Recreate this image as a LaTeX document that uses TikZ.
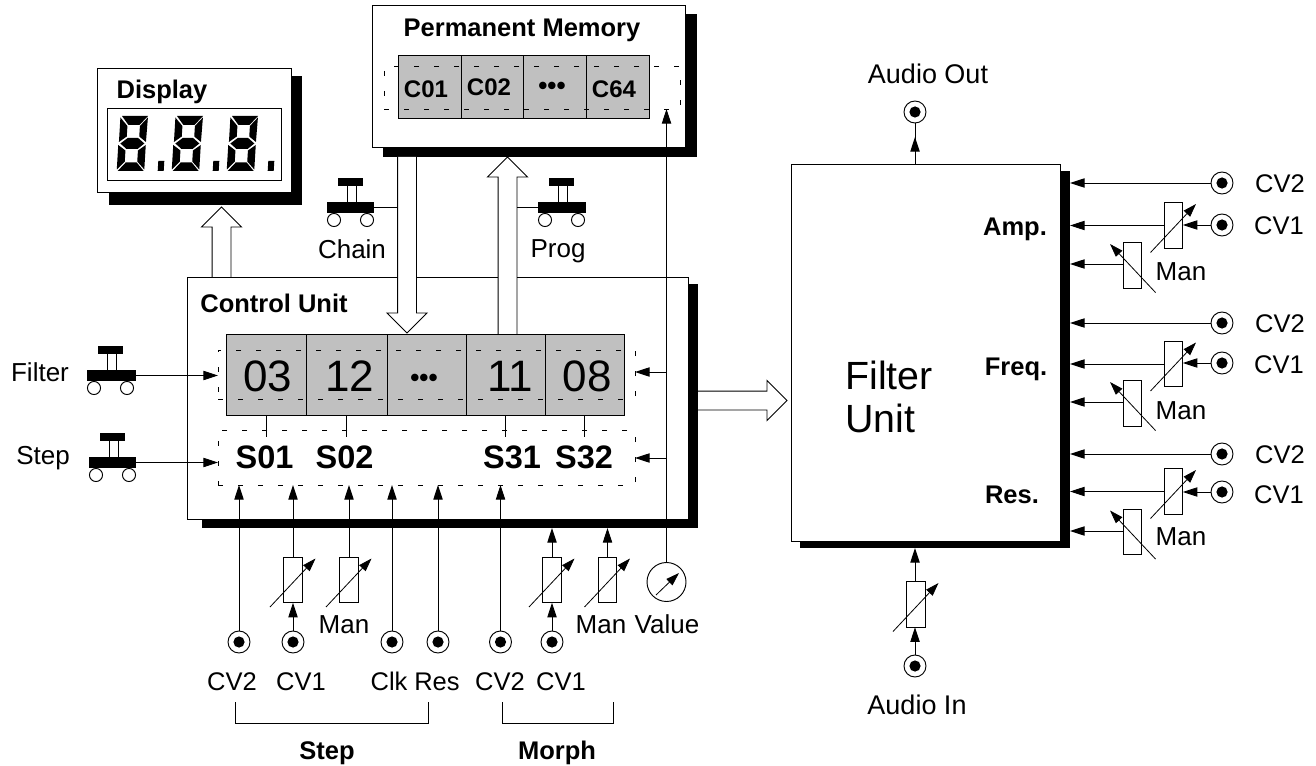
\documentclass[tikz,border=0pt]{standalone}
\usepackage{fontspec}
\setmainfont{Liberation Sans}
\usetikzlibrary{arrows.meta,calc}
\tikzset{
  ln/.style={draw=black,line width=0.7pt},
  arr/.style={ln,-{Triangle[length=11pt,width=7pt]},shorten >=0pt},
  varr/.style={draw=black,line width=0.6pt,-{Triangle[length=10pt,width=6.5pt]}},
  boxs/.style={ln,fill=white},
  shad/.style={fill=black,draw=none},
  cellb/.style={ln,fill=cellgrey},
  dashb/.style={draw=black,line width=0.6pt,dash pattern=on 3.75pt off 11.25pt},
  jackn/.style={circle,ln,fill=white,minimum size=16.5pt,inner sep=0pt,outer sep=0pt},
  blockarrow/.style={ln,fill=white,to path={
    ($(\tikztostart)!7.1pt!90:(\tikztotarget)$) --
    ($(\tikztotarget)!15pt!(\tikztostart)!7.1pt!90:(\tikztotarget)$) --
    ($(\tikztotarget)!15pt!(\tikztostart)!15pt!90:(\tikztotarget)$) --
    (\tikztotarget) --
    ($(\tikztotarget)!15pt!(\tikztostart)!15pt!-90:(\tikztotarget)$) --
    ($(\tikztotarget)!15pt!(\tikztostart)!7.1pt!-90:(\tikztotarget)$) --
    ($(\tikztostart)!7.1pt!-90:(\tikztotarget)$)}}
}
\definecolor{cellgrey}{RGB}{192,192,192}
\newcommand\rectn[6]{%
  \pgfmathsetmacro\rw{((#5)-(#3))*0.75}\pgfmathsetmacro\rh{((#6)-(#4))*0.75}%
  \node[#1,minimum width=\rw pt,minimum height=\rh pt,inner sep=0pt,outer sep=0pt] (#2) at ({((#3)+(#5))/2},{((#4)+(#6))/2}) {};}
\newcommand\lab[5]{%
  \pgfmathsetmacro\fs{#4*0.75}%
  \node[inner sep=0pt,anchor=base] (#1) at (#2,{#3+0.358*#4}) {\fontsize{\fs pt}{\fs pt}\selectfont #5};}
\newcommand\blab[5]{\lab{#1}{#2}{#3}{#4}{\bfseries #5}}
\newcommand\jack[3]{%
  \node[jackn] (#1) at (#2,#3) {};
  \fill[black] (#1.center) circle (4.2pt);}
% name, cx, cy, flip
\newcommand\vpot[4]{%
  \rectn{boxs}{#1}{#2-9.25}{#3-22.75}{#2+9.25}{#3+22.75}
  \draw[varr] ({#2-(#4)*23},{#3+27}) -- ({#2+(#4)*22.5},{#3-21.5});}
% name, x1, x2, y
\newcommand\pbtn[4]{%
  \draw[ln] ({#2+20},{#4-18}) -- ({#2+20},#4) ({#2+29},{#4-18}) -- ({#2+29},#4);
  \rectn{shad}{#1}{#2}{#4}{#3}{#4+11}
  \rectn{shad}{#1cap}{#2+11}{#4-24}{#2+36}{#4-16}
  \draw[ln] ({#2+7},{#4+18}) circle (4.9pt) ({#2+40},{#4+18}) circle (4.9pt);}
\newcommand\sevenseg[1]{%
  \begin{scope}[shift={(#1,116)},xslant=0.06]
    \fill (2,0) -- (28,0) -- (20,9) -- (9,9) -- cycle;
    \fill (0.5,1.5) -- (8,10) -- (8,20.5) -- (0.5,26) -- cycle;
    \fill (28,1.5) -- (20.5,10) -- (20.5,20.5) -- (27.5,26) -- cycle;
    \fill (2,27.5) -- (9,22) -- (19.5,22) -- (26,27.5) -- (19.5,33) -- (8.5,33) -- cycle;
    \fill (0,29) -- (7.5,34.5) -- (7.5,45.5) -- (0,53.5) -- cycle;
    \fill (27.5,29) -- (20,34.5) -- (20,45.5) -- (27.5,53.5) -- cycle;
    \fill (1,55) -- (8.5,46.5) -- (19.5,46.5) -- (27,55) -- cycle;
    \fill (41,45) -- (47,45) -- (47,55) -- (41,55) -- cycle;
  \end{scope}}
\begin{document}
\begin{tikzpicture}[x=0.75pt,y=-0.75pt]
\useasboundingbox (0,0) rectangle (1316,766);
% shadows and boxes
\rectn{shad}{dispS}{109}{76}{302}{205}
\rectn{boxs}{disp}{97}{68}{291}{192}
\rectn{ln}{dispW}{107}{108}{281}{180}
\rectn{shad}{memS}{383}{14}{697}{157}
\rectn{boxs}{mem}{372}{5}{685}{147}
\rectn{shad}{ctlS}{202}{284}{698}{528}
\rectn{boxs}{ctl}{187}{277}{688}{519}
\rectn{shad}{fuS}{800}{171}{1070}{548}
\rectn{boxs}{fu}{791}{164}{1060}{541}
% seven segment digits
\sevenseg{120}\sevenseg{175}\sevenseg{230}
% memory cells
\rectn{cellb}{m1}{398}{55}{461}{118}
\rectn{cellb}{m2}{461}{55}{523}{118}
\rectn{cellb}{m3}{523}{55}{586}{118}
\rectn{cellb}{m4}{586}{55}{649}{118}
\rectn{dashb}{mD}{384}{66}{680}{109}
% step cells
\rectn{cellb}{c1}{226}{334}{306}{415}
\rectn{cellb}{c2}{306}{334}{387}{415}
\rectn{cellb}{c3}{387}{334}{466}{415}
\rectn{cellb}{c4}{466}{334}{545}{415}
\rectn{cellb}{c5}{545}{334}{624}{415}
\rectn{dashb}{dA}{218}{350}{635}{399}
\rectn{dashb}{dB}{218}{430}{635}{485}
\draw[ln] (c1.south) -- ++(0,22);
\draw[ln] (c2.south) -- ++(0,22);
\draw[ln] (c4.south) -- ++(0,22);
\draw[ln] (c5.south) -- ++(0,22);
% push buttons
\pbtn{bChain}{327}{374}{202}
\pbtn{bProg}{538}{586}{202}
\pbtn{bFilter}{87}{136}{370}
\pbtn{bStep}{89}{136}{457}
% jacks, step and morph
\jack{jA}{239}{642}
\jack{jB}{293}{642}
\jack{jC}{392}{642}
\jack{jD}{438}{642}
\jack{jE}{500.5}{642}
\jack{jF}{552}{642}
\vpot{pA}{293}{580}{1}
\vpot{pB}{349}{580}{1}
\vpot{pC}{552}{580}{1}
\vpot{pD}{607.5}{580}{1}
\node[circle,ln,fill=white,minimum size=29.25pt,inner sep=0pt,outer sep=0pt] (gauge) at (666.5,582) {};
\draw[varr] (656,595) -- (679,573);
\coordinate (vA) at (666.5,372);
\coordinate (vB) at (666.5,458);
% filter side
\jack{jOut}{915}{112}
\jack{jIn}{915}{666}
\vpot{pIn}{916}{604.5}{1}
\jack{a2}{1222}{183}
\jack{a1}{1222}{225}
\vpot{pa1}{1173.5}{225.5}{1}
\vpot{pam}{1132.5}{265.5}{-1}
\coordinate (am) at (1124,264);
\jack{f2}{1222}{323}
\jack{f1}{1222}{363}
\vpot{pf1}{1173.5}{364}{1}
\vpot{pfm}{1132.5}{403.5}{-1}
\coordinate (fm) at (1124,402);
\jack{r2}{1222}{454}
\jack{r1}{1222}{492}
\vpot{pr1}{1173.5}{491.5}{1}
\vpot{prm}{1132.5}{532}{-1}
\coordinate (rm) at (1124,531);
% connectors
\draw[arr] (bFilter.east) -- (bFilter.east -| dA.west);
\draw[arr] (bStep.east) -- (bStep.east -| dB.west);
\draw[arr] (jA.north) -- (jA.north |- dB.south);
\draw[arr] (jB.north) -- (pA.south);
\draw[arr] (pA.north) -- (pA.north |- dB.south);
\draw[arr] (pB.north) -- (pB.north |- dB.south);
\draw[arr] (jC.north) -- (jC.north |- dB.south);
\draw[arr] (jD.north) -- (jD.north |- dB.south);
\draw[arr] (jE.north) -- (jE.north |- dB.south);
\draw[arr] (jF.north) -- (pC.south);
\draw[arr] (pC.north) -- (pC.north |- ctlS.south);
\draw[arr] (pD.north) -- (pD.north |- ctlS.south);
\draw[arr] (gauge.north) -- (gauge.north |- mD.south);
\draw[arr] (vA) -- (vA -| dA.east);
\draw[arr] (vB) -- (vB -| dB.east);
\draw[ln] (jOut.south) -- (jOut.south |- fu.north);
\draw[arr] (jOut.south |- fu.north) -- ++(0,-27);
\draw[arr] (jIn.north) -- (jIn.north |- pIn.south);
\draw[arr] (jIn.north |- pIn.north) -- (jIn.north |- fuS.south);
\foreach \g in {a,f,r}{
  \draw[arr] (\g2.west) -- (\g2.west -| fuS.east);
  \draw[arr] (\g1.west) -- (\g1.west -| p\g1.east);
  \draw[arr] (p\g1.west) -- (p\g1.west -| fuS.east);
  \draw[arr] (\g m) -- (\g m -| fuS.east);
}
% block arrows
\coordinate (dS) at (221.5,277); \coordinate (dT) at (221.5,207);
\coordinate (eS) at (407,157);   \coordinate (eT) at (407,333);
\coordinate (gS) at (507.5,334); \coordinate (gT) at (507.5,157);
\coordinate (hS) at (698,400.5); \coordinate (hT) at (787,400.5);
\draw[ln] (bChain.east) -- (bChain.east -| eS);
\draw[ln] (bProg.west) -- (bProg.west -| gS);
\draw[blockarrow] (dS) to (dT);
\draw[blockarrow] (eS) to (eT);
\draw[blockarrow] (gS) to (gT);
\draw[blockarrow] (hS) to (hT);
% brackets
\draw[ln] (235,702) -- (235,723) -- (428,723) -- (428,702);
\draw[ln] (502,702) -- (502,723) -- (613,723) -- (613,702);
% labels
\blab{tDisp}{162}{89}{25.5}{Display}
\blab{tMem}{522}{27}{25.5}{Permanent Memory}
\blab{tCtl}{274}{303}{25.5}{Control Unit}
\blab{tC1}{426}{89}{24}{C01}
\blab{tC2}{489}{87}{24}{C02}
\blab{tC3}{552}{85}{26}{•••}
\blab{tC4}{614}{89}{24}{C64}
\lab{tV1}{268}{376}{44}{03}
\lab{tV2}{350}{376}{44}{12}
\blab{tV3}{424}{377}{26}{•••}
\lab{tV4}{510}{376}{44}{11}
\lab{tV5}{587}{376}{44}{08}
\blab{tS1}{264.5}{457}{32.5}{S01}
\blab{tS2}{344.5}{457}{32.5}{S02}
\blab{tS3}{512}{457}{32.5}{S31}
\blab{tS4}{584}{457}{32.5}{S32}
\lab{tChain}{352}{249}{26}{Chain}
\lab{tProg}{558}{248}{26}{Prog}
\lab{tFilter}{40}{372}{26}{Filter}
\lab{tStep}{43}{455}{26}{Step}
\lab{tMan1}{344}{624}{26}{Man}
\lab{tMan2}{601}{624}{26}{Man}
\lab{tValue}{667}{624}{26}{Value}
\lab{tb1}{232}{681}{25.5}{CV2}
\lab{tb2}{301}{681}{25.5}{CV1}
\lab{tb3}{389}{681}{25.5}{Clk}
\lab{tb4}{437}{681}{25.5}{Res}
\lab{tb5}{500}{681}{25.5}{CV2}
\lab{tb6}{561}{681}{25.5}{CV1}
\blab{tBs}{327}{750}{25.5}{Step}
\blab{tBm}{557}{750}{25.5}{Morph}
\lab{tOut}{928}{74}{27}{Audio Out}
\lab{tIn}{917}{705}{27}{Audio In}
\node[inner sep=0pt,anchor=west,align=left,font=\fontsize{29.5pt}{32.3pt}\selectfont] (tFu) at (845,396.5) {Filter\\Unit};
\blab{tAmp}{1015}{226}{25.5}{Amp.}
\blab{tFreq}{1016}{366}{25.5}{Freq.}
\blab{tRes}{1012}{494}{25.5}{Res.}
\lab{ta2}{1280}{183}{25.5}{CV2}
\lab{ta1}{1279}{225}{25.5}{CV1}
\lab{taM}{1181}{271}{26}{Man}
\lab{tf2}{1280}{323}{25.5}{CV2}
\lab{tf1}{1279}{364}{25.5}{CV1}
\lab{tfM}{1181}{410}{26}{Man}
\lab{tr2}{1280}{454}{25.5}{CV2}
\lab{tr1}{1279}{494}{25.5}{CV1}
\lab{trM}{1181}{536}{26}{Man}
\end{tikzpicture}
\end{document}
